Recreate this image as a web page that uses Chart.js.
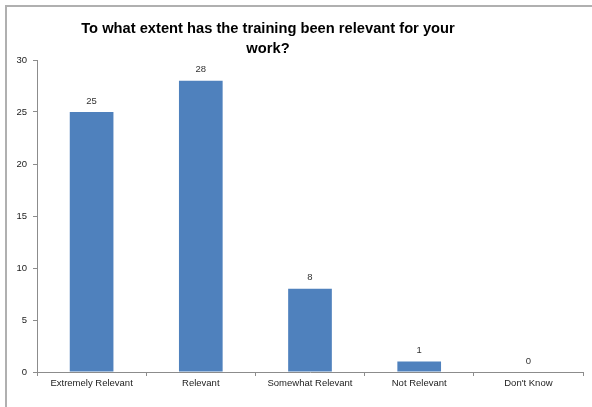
<!DOCTYPE html>
<html>
<head>
<meta charset="utf-8">
<script src="https://cdn.jsdelivr.net/npm/chart.js@4/dist/chart.umd.min.js"></script>
<style>
  body { margin: 0; background: #fff; }
  #wrap { position: relative; width: 592px; height: 407px; overflow: hidden; }
  #frame { position: absolute; left: 5px; top: 5px; width: 700px; height: 500px;
           border-left: 2px solid #b0b0b0; border-top: 2px solid #b0b0b0; }
  #titulo { position: absolute; left: 0; top: 18px; width: 536px; text-align: center;
            font: bold 14.7px "Liberation Sans", Arial, sans-serif; line-height: 20px; color: #000; }
  canvas { position: absolute; left: 0; top: 0; }
</style>
</head>
<body>
<div id="wrap">
  <div id="frame"></div>
  <canvas id="grafico" width="592" height="407"></canvas>
  <div id="titulo">To what extent has the training been relevant for your<br>work?</div>
</div>
<script>
const categorias = ["Extremely Relevant", "Relevant", "Somewhat Relevant", "Not Relevant", "Don't Know"];
const valores = [25, 28, 8, 1, 0];
const ticksY = [0, 5, 10, 15, 20, 25, 30];

const fuente = "'Liberation Sans', Arial, sans-serif";

// etiquetas de valor encima de cada barra
const etiquetasValor = {
  id: "etiquetasValor",
  afterDatasetsDraw(chart) {
    const ctx = chart.ctx;
    const meta = chart.getDatasetMeta(0);
    ctx.save();
    ctx.font = "9.5px " + fuente;
    ctx.fillStyle = "#333";
    ctx.textAlign = "center";
    ctx.textBaseline = "middle";
    meta.data.forEach((bar, i) => {
      ctx.fillText(String(valores[i]), bar.x, bar.y - 11);
    });
    ctx.restore();
  }
};

new Chart(document.getElementById("grafico"), {
  type: "bar",
  data: {
    labels: categorias,
    datasets: [{
      data: valores,
      backgroundColor: "#4f81bd",
      barPercentage: 0.4,
      categoryPercentage: 1
    }]
  },
  options: {
    responsive: false,
    animation: false,
    layout: { padding: { top: 60, right: 9, left: 0, bottom: 0 } },
    plugins: { legend: { display: false }, tooltip: { enabled: false } },
    scales: {
      x: {
        offset: true,
        grid: { offset: true, drawOnChartArea: false, tickLength: 4, color: "#8c8c8c" },
        border: { color: "#8c8c8c", width: 1 },
        ticks: { color: "#222", font: { family: fuente, size: 9.5 }, padding: 2, maxRotation: 0 },
        afterFit(scale) { scale.height = 35; }
      },
      y: {
        min: 0,
        max: 30,
        afterBuildTicks(scale) { scale.ticks = ticksY.map(v => ({ value: v })); },
        grid: { drawOnChartArea: false, tickLength: 4, color: "#8c8c8c" },
        border: { color: "#8c8c8c", width: 1 },
        ticks: { color: "#222", font: { family: fuente, size: 9.5 }, padding: 6 },
        afterFit(scale) { scale.width = 37; }
      }
    }
  },
  plugins: [etiquetasValor]
});
</script>
</body>
</html>
